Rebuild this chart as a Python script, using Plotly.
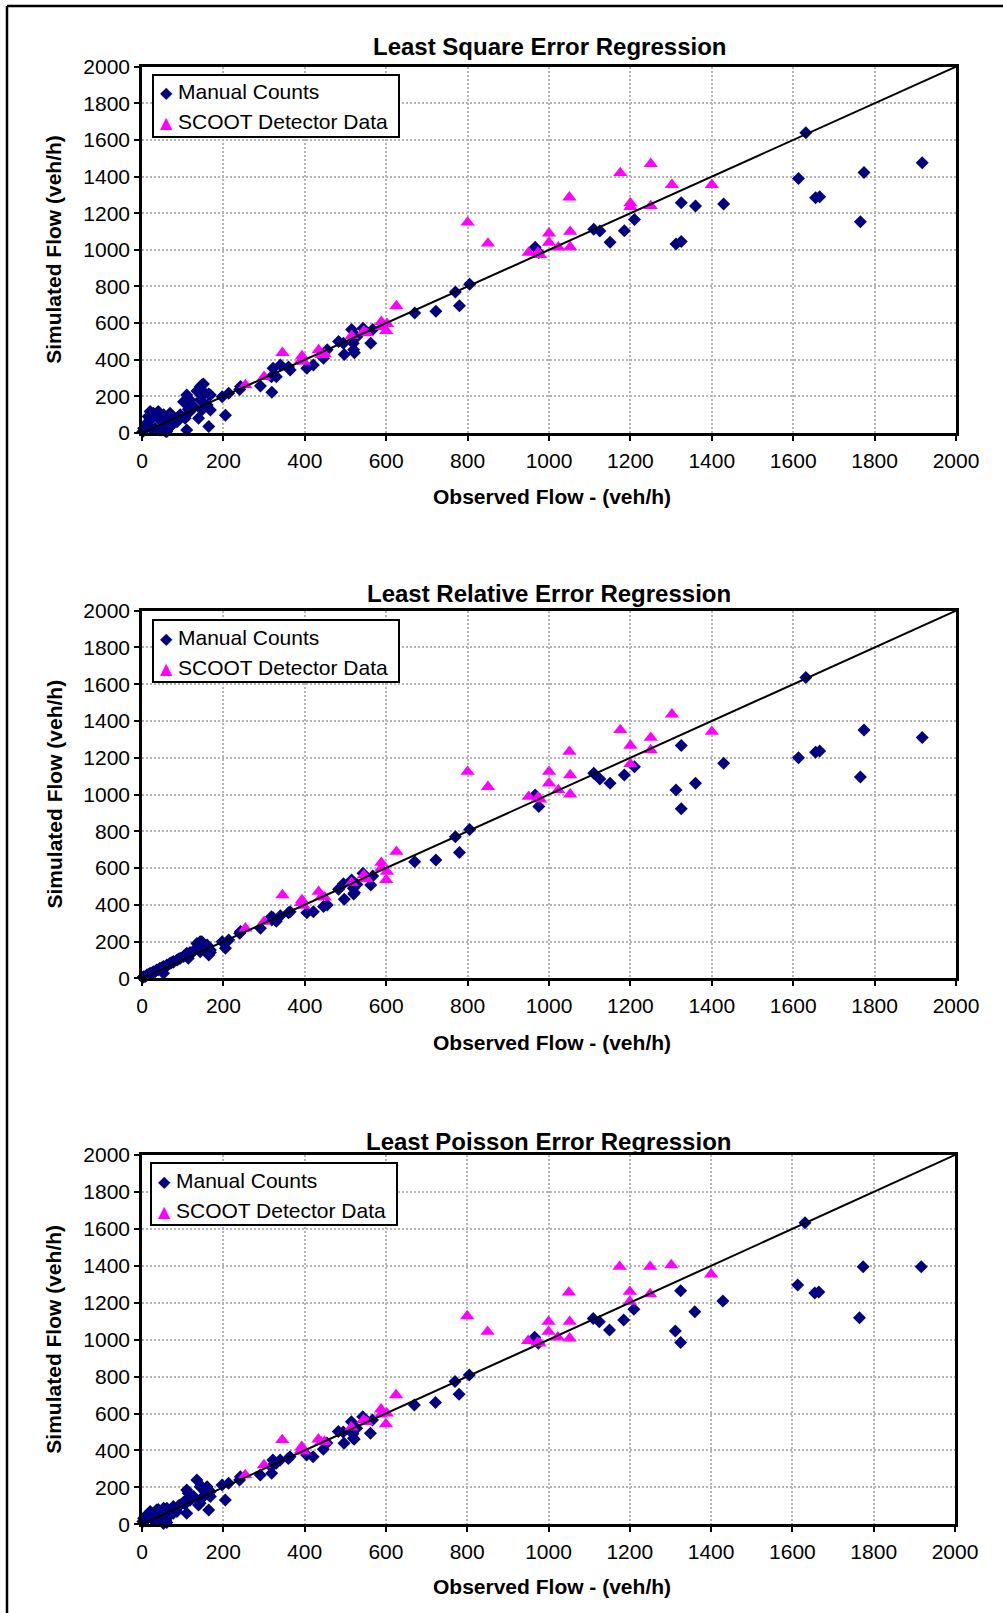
import plotly.graph_objects as go

W, H = 1003, 1613

# ---- Manual counts: observed flow and simulated flow from the three calibrations (veh/h)
manual_observed = [
    2, 4, 8, 12, 15, 20, 20, 24, 28, 32, 36, 40, 44, 44, 50, 53, 53, 58, 61, 61,
    69, 72, 77, 77, 86, 90, 94, 102, 106, 110, 110, 114, 118, 118, 127, 135, 139, 143, 143, 147,
    147, 151, 155, 160, 164, 164, 168, 168, 197, 205, 213, 240, 242, 291, 319, 318, 330, 322, 340, 360,
    364, 405, 421, 446, 455, 483, 495, 497, 515, 519, 520, 522, 528, 543, 562, 567, 670, 722, 770, 780,
    805, 966, 975, 1110, 1125, 1150, 1185, 1210, 1312, 1325, 1325, 1360, 1429, 1613, 1631, 1655, 1665, 1765, 1774, 1917,
]
manual_sim_square = [
    8, 26, 45, 44, 90, 117, 71, 20, 108, 26, 99, 117, 71, 17, 60, 35, 99, 10, 71, 8,
    108, 40, 80, 53, 62, 90, 99, 171, 80, 207, 17, 130, 180, 117, 144, 230, 80, 180, 253, 262,
    126, 267, 217, 153, 35, 213, 207, 126, 198, 97, 217, 238, 254, 257, 222, 307, 307, 353, 371, 360,
    344, 353, 371, 408, 455, 499, 490, 428, 565, 490, 455, 438, 526, 572, 490, 565, 655, 665, 770, 695,
    812, 1014, 985, 1112, 1103, 1041, 1104, 1166, 1032, 1045, 1257, 1240, 1250, 1390, 1640, 1285, 1290, 1153, 1423, 1475,
]
manual_sim_relative = [
    5, 9, 10, 18, 20, 27, 22, 28, 36, 36, 45, 46, 54, 50, 60, 27, 64, 62, 73, 68,
    82, 85, 91, 88, 100, 105, 109, 118, 125, 136, 125, 109, 140, 130, 150, 190, 163, 145, 199, 199,
    172, 181, 154, 181, 127, 154, 154, 140, 199, 163, 208, 245, 254, 272, 317, 335, 310, 330, 340, 357,
    362, 357, 362, 390, 399, 484, 515, 430, 535, 490, 459, 465, 510, 571, 508, 557, 634, 643, 770, 685,
    810, 997, 935, 1115, 1085, 1061, 1106, 1151, 1024, 923, 1266, 1061, 1170, 1200, 1637, 1230, 1236, 1095, 1351, 1310,
]
manual_sim_poisson = [
    15, 33, 20, 51, 40, 69, 55, 30, 60, 25, 78, 80, 40, 33, 50, 5, 87, 20, 87, 10,
    51, 70, 96, 60, 69, 100, 105, 120, 110, 186, 60, 168, 150, 130, 150, 240, 105, 114, 204, 204,
    141, 150, 177, 204, 78, 160, 177, 150, 213, 132, 222, 240, 258, 267, 276, 312, 330, 348, 348, 357,
    366, 375, 366, 406, 440, 502, 500, 439, 556, 490, 466, 460, 520, 583, 493, 565, 646, 659, 773, 704,
    808, 1013, 980, 1115, 1097, 1052, 1106, 1164, 1047, 984, 1265, 1151, 1209, 1296, 1633, 1253, 1258, 1119, 1395, 1395,
]

# ---- SCOOT detector data
scoot_observed = [
    254, 300, 345, 391, 393, 397, 434, 441, 449, 515, 545, 552, 588, 588, 600, 602, 625, 800,
    850, 950, 973, 978, 1000, 1000, 1023, 1052, 1052, 1050, 1175, 1200, 1200, 1250, 1250, 1302, 1400,
]
scoot_sim_square = [
    262, 307, 438, 398, 420, 390, 453, 426, 431, 530, 556, 545, 607, 580, 558, 596, 693, 1150,
    1035, 985, 985, 972, 1090, 1040, 1014, 1099, 1015, 1287, 1420, 1255, 1235, 1470, 1240, 1355, 1355,
]
scoot_sim_relative = [
    272, 308, 453, 410, 426, 395, 471, 444, 440, 520, 562, 540, 629, 600, 535, 580, 689, 1124,
    1042, 988, 985, 974, 1124, 1061, 1024, 1106, 1001, 1233, 1351, 1266, 1166, 1309, 1242, 1436, 1342,
]
scoot_sim_poisson = [
    267, 321, 457, 400, 420, 395, 460, 445, 448, 525, 565, 555, 623, 595, 543, 601, 700, 1128,
    1043, 994, 985, 980, 1097, 1043, 1013, 1097, 1007, 1256, 1395, 1260, 1206, 1395, 1247, 1404, 1354,
]

panel_titles = [
    "Least Square Error Regression",
    "Least Relative Error Regression",
    "Least Poisson Error Regression",
]
series_names = ["Manual Counts", "SCOOT Detector Data"]
manual_series = [manual_sim_square, manual_sim_relative, manual_sim_poisson]
scoot_series = [scoot_sim_square, scoot_sim_relative, scoot_sim_poisson]

axis_ticks = list(range(0, 2001, 200))
equality_line = [0, 2000]

FONT = "Arial, 'Liberation Sans', sans-serif"
NAVY = "#000080"
MAGENTA = "#FF00FF"

# pixel boxes of the three plot areas: (left, top, right, bottom)
boxes = [
    (142, 66.7, 956, 433),
    (142, 610.7, 956, 978.3),
    (142, 1155, 955, 1524.3),
]
title_y = [47, 594, 1141]
xtitle_y = [497, 1042, 1586]
# legend box corners (left, top) in pixels
legend_corner = [(153, 75), (153, 620), (151, 1163)]
LEG_W, LEG_H = 246, 62


def px(xp):
    return xp / W


def py(yp):
    return 1 - yp / H


fig = go.Figure()
layout = dict(
    width=W, height=H, autosize=False, showlegend=False,
    margin=dict(l=0, r=0, t=0, b=0, pad=0),
    paper_bgcolor="white", plot_bgcolor="white",
    font=dict(family=FONT, size=21, color="black"),
    annotations=[], shapes=[],
)

for i in range(3):
    n = "" if i == 0 else str(i + 1)
    xa, ya = "x" + n, "y" + n
    l, t, r, b = boxes[i]

    fig.add_trace(go.Scatter(
        x=manual_observed, y=manual_series[i], mode="markers", name=series_names[0],
        marker=dict(symbol="diamond", size=10, color=NAVY),
        xaxis=xa, yaxis=ya, cliponaxis=False,
    ))
    fig.add_trace(go.Scatter(
        x=scoot_observed, y=scoot_series[i], mode="markers", name=series_names[1],
        marker=dict(symbol="triangle-up", size=12.5, color=MAGENTA),
        xaxis=xa, yaxis=ya, cliponaxis=False,
    ))
    fig.add_trace(go.Scatter(
        x=equality_line, y=equality_line, mode="lines",
        line=dict(color="black", width=2),
        xaxis=xa, yaxis=ya, hoverinfo="skip",
    ))

    common = dict(
        range=[0, 2000], tickvals=axis_ticks, showline=True, linecolor="black",
        linewidth=2.5, mirror=True, ticks="outside", ticklen=5, tickwidth=1.5,
        tickcolor="black", showgrid=True, gridcolor="#b4b4b4", gridwidth=1.5,
        griddash="2px,2px", zeroline=False, automargin=False,
        tickfont=dict(family=FONT, size=21, color="black"),
    )
    layout["xaxis" + n] = dict(common, domain=[px(l), px(r)], anchor=ya,
                               ticklabelstandoff=2)
    layout["yaxis" + n] = dict(common, domain=[py(b), py(t)], anchor=xa)

    cx = (l + r) / 2
    layout["annotations"] += [
        dict(text="<b>%s</b>" % panel_titles[i], x=px(cx), y=py(title_y[i]),
             xref="paper", yref="paper", xanchor="center", yanchor="middle",
             showarrow=False, font=dict(family=FONT, size=24, color="black")),
        dict(text="<b>Observed Flow - (veh/h)</b>", x=px(cx + 3), y=py(xtitle_y[i]),
             xref="paper", yref="paper", xanchor="center", yanchor="middle",
             showarrow=False, font=dict(family=FONT, size=21, color="black")),
        dict(text="<b>Simulated Flow (veh/h)</b>", x=px(54), y=py((t + b) / 2),
             xref="paper", yref="paper", xanchor="center", yanchor="middle",
             textangle=-90, showarrow=False,
             font=dict(family=FONT, size=21, color="black")),
    ]

    # legend box with a symbol and a label per series
    lx, ly = legend_corner[i]
    layout["shapes"].append(dict(
        type="rect", xref="paper", yref="paper", layer="above",
        x0=px(lx), x1=px(lx + LEG_W), y0=py(ly + LEG_H), y1=py(ly),
        line=dict(color="black", width=2), fillcolor="white",
    ))
    rows = [ly + 17, ly + 47]
    symbols = [("\u25C6", NAVY, 16), ("\u25B2", MAGENTA, 16)]
    for (sym, col, sz), name, ry in zip(symbols, series_names, rows):
        layout["annotations"] += [
            dict(text=sym, x=px(lx + 13), y=py(ry + 1), xref="paper", yref="paper",
                 xanchor="center", yanchor="middle", showarrow=False,
                 font=dict(family="DejaVu Sans", size=sz, color=col)),
            dict(text=name, x=px(lx + 23), y=py(ry), xref="paper", yref="paper",
                 xanchor="left", yanchor="middle", showarrow=False,
                 font=dict(family=FONT, size=21, color="black")),
        ]

# page frame (left and top edges)
layout["shapes"] += [
    dict(type="line", xref="paper", yref="paper", x0=px(7), x1=px(7),
         y0=-0.05, y1=py(6), line=dict(color="black", width=2.5)),
    dict(type="line", xref="paper", yref="paper", x0=px(7), x1=1.05,
         y0=py(6), y1=py(6), line=dict(color="black", width=2.5)),
]

fig.update_layout(**layout)
fig.write_html("out.html")
